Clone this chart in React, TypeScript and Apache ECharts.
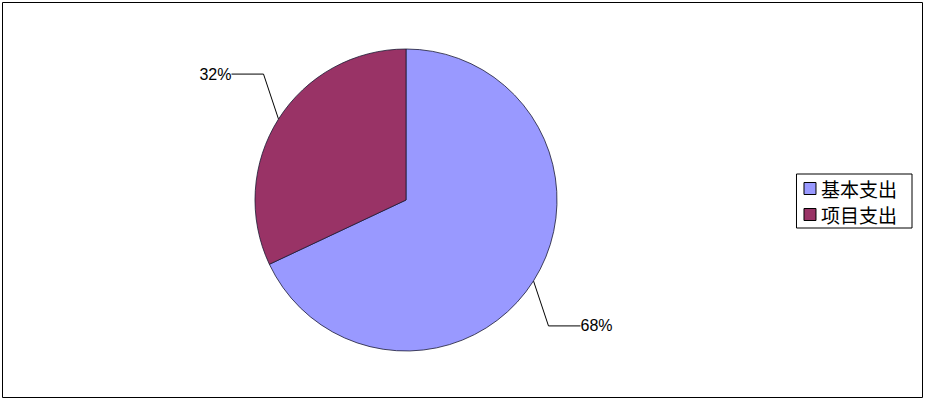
import React, { useEffect, useRef } from "react";
import * as echarts from "echarts";

const categories = ["基本支出", "项目支出"];
const values = [68, 32];
const colors = ["#9999FF", "#993366"];

export default function App() {
  const ref = useRef<HTMLDivElement>(null);
  useEffect(() => {
    document.body.style.margin = "0";
    if (!ref.current) return;
    const chart = echarts.init(ref.current, null, { renderer: "svg" });
    chart.setOption({
      animation: false,
      backgroundColor: "#fff",
      graphic: [
        {
          type: "rect",
          shape: { x: 2.5, y: 2.5, width: 920, height: 395 },
          style: { fill: "none", stroke: "#000", lineWidth: 1 },
          silent: true,
        },
      ],
      legend: {
        orient: "vertical",
        right: 14,
        top: 174,
        data: categories,
        itemWidth: 12,
        itemHeight: 12,
        itemGap: 7,
        padding: [5, 15, 4, 7],
        borderColor: "#000",
        borderWidth: 1,
        icon: "rect",
        textStyle: {
          fontFamily: "Noto Sans CJK SC",
          fontSize: 19,
          color: "#000",
        },
        itemStyle: { borderColor: "#000", borderWidth: 1 },
      },
      series: [
        {
          type: "pie",
          center: [406, 200],
          radius: 151,
          startAngle: 90,
          clockwise: true,
          data: categories.map((c, i) => ({
            name: c,
            value: values[i],
            itemStyle: { color: colors[i] },
          })),
          itemStyle: { borderColor: "#1a1a33", borderWidth: 0.8 },
          label: {
            show: true,
            formatter: "{d}%",
            color: "#000",
            fontFamily: "Liberation Sans",
            fontSize: 16,
          },
          labelLine: {
            show: true,
            length: 20,
            length2: 30,
            lineStyle: { color: "#000", width: 1 },
          },
          labelLayout: (params: any) => {
            const pts = params.labelLinePoints;
            if (!pts) return {};
            const p0 = pts[0];
            const dx = pts[1][0] - p0[0] >= 0 ? 1 : -1;
            const dy = pts[1][1] - p0[1] >= 0 ? 1 : -1;
            const p1 = [p0[0] + dx * 15, p0[1] + dy * 45];
            const p2 = [p1[0] + dx * 32, p1[1]];
            return {
              x: p2[0],
              y: p2[1],
              align: dx < 0 ? "right" : "left",
              verticalAlign: "middle",
              labelLinePoints: [p0, p1, p2],
            };
          },
          emphasis: { disabled: true },
        },
      ],
    });
    return () => chart.dispose();
  }, []);
  return <div ref={ref} style={{ width: 926, height: 400 }} />;
}
